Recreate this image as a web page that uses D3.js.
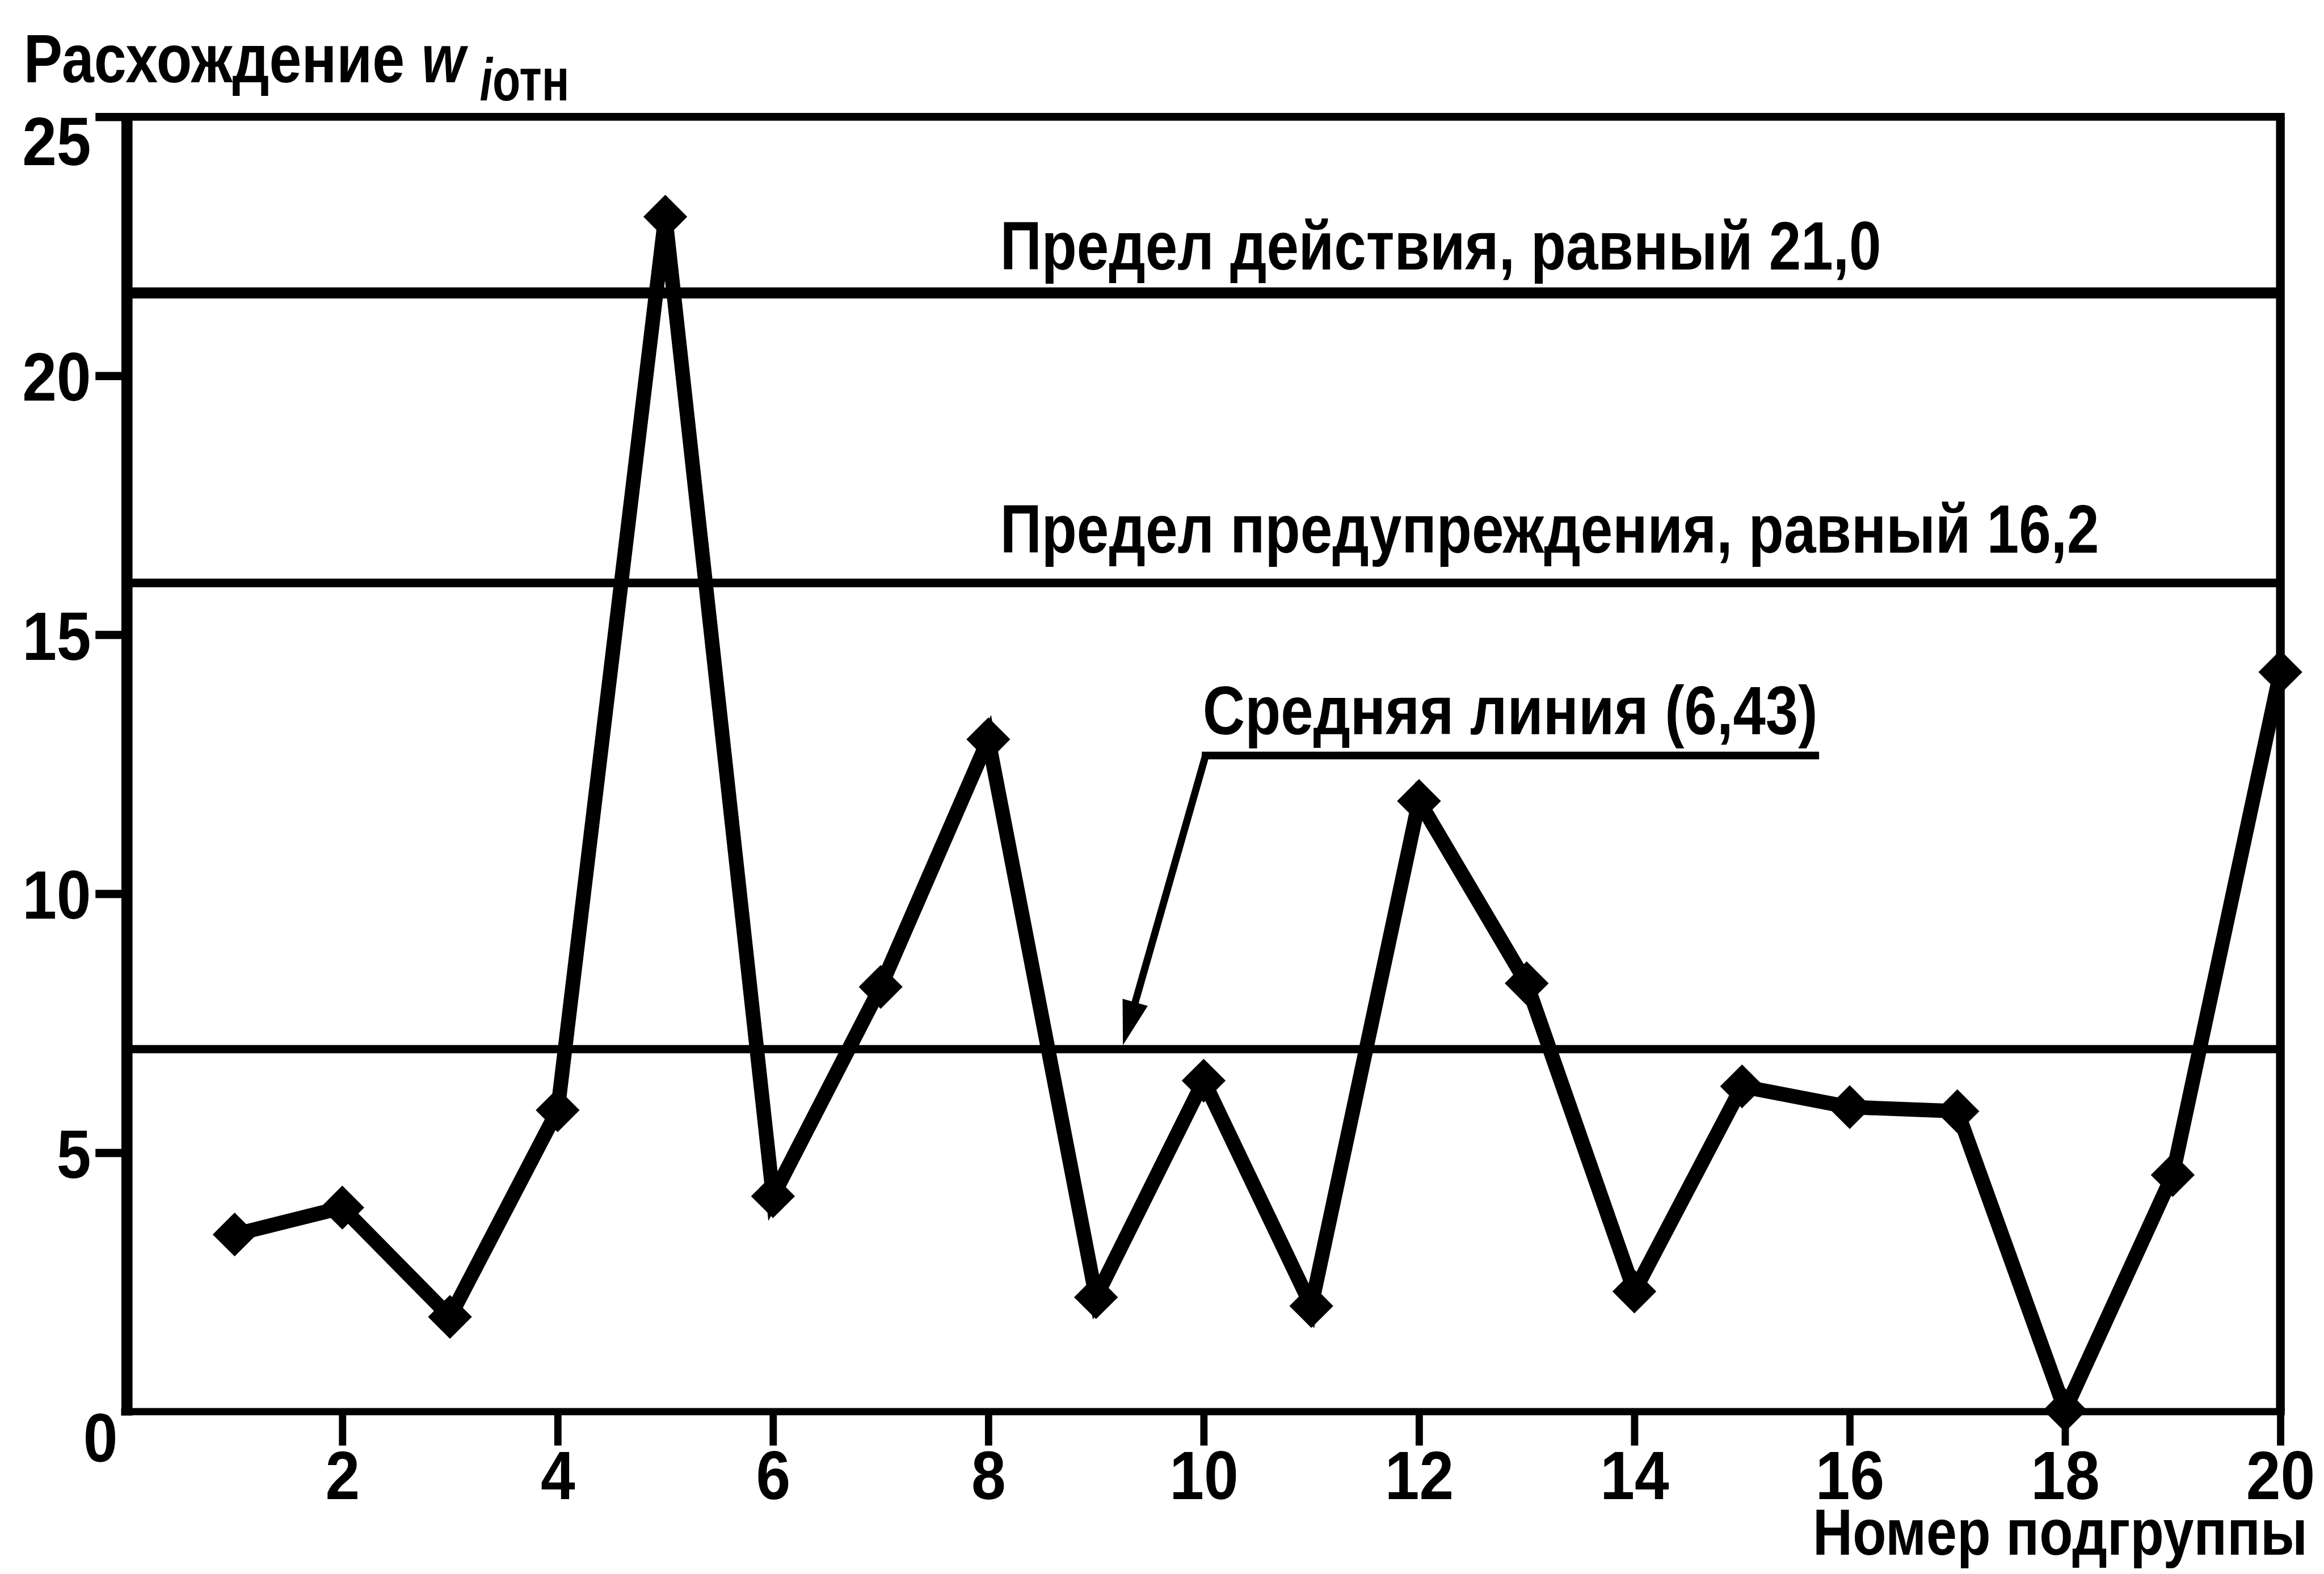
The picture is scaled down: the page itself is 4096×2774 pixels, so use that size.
<!DOCTYPE html>
<html>
<head>
<meta charset="utf-8">
<script src="https://cdn.jsdelivr.net/npm/d3@7"></script>
<style>
  html, body { margin: 0; padding: 0; background: #fff; }
  svg { display: block; }
  text { font-family: 'Liberation Sans', Arial, Helvetica, sans-serif; font-weight: bold; fill: #000; }
</style>
</head>
<body>
<div id="chart"></div>
<script>
// номер подгруппы и расхождение w_i отн
const subgroups = [1, 2, 3, 4, 5, 6, 7, 8, 9, 10, 11, 12, 13, 14, 15, 16, 17, 18, 19, 20]
const divergence = [3.42, 3.94, 1.83, 5.82, 23.07, 4.16, 8.20, 12.98, 2.21, 6.39, 2.04, 11.79, 8.27, 2.32, 6.28, 5.88, 5.80, 0.03, 4.57, 14.28]

// линии: предел действия, предел предупреждения, средняя (как нарисованы)
const limitValues = [21.6, 16.0, 7.0]
const limitLabels = ['Предел действия, равный 21,0', 'Предел предупреждения, равный 16,2', 'Средняя линия (6,43)']

const xTickValues = [2, 4, 6, 8, 10, 12, 14, 16, 18, 20]
const yTickValues = [0, 5, 10, 15, 20, 25]

// рисуем в координатах оригинала, viewBox ужимает до окна
const refW = 4796
const refH = 3248
const width = 4096
const height = 2774

const svg = d3.select('#chart')
  .append('svg')
  .attr('width', width)
  .attr('height', height)
  .attr('viewBox', `0 0 ${refW} ${refH}`)

svg.append('rect').attr('width', refW).attr('height', refH).attr('fill', '#fff')

const x = d3.scaleLinear().domain([0, 20]).range([262, 4706])
const y = d3.scaleLinear().domain([0, 25]).range([2913, 241])

const fs = 142
const tickK = 0.9

// рамка
const frame = svg.append('g').attr('stroke', '#000')
frame.append('line').attr('x1', x(0) - 12).attr('x2', x(20) + 9).attr('y1', y(25)).attr('y2', y(25)).attr('stroke-width', 16)
frame.append('line').attr('x1', x(20)).attr('x2', x(20)).attr('y1', y(25)).attr('y2', y(0)).attr('stroke-width', 18)
frame.append('line').attr('x1', x(0) - 12).attr('x2', x(20) + 9).attr('y1', y(0)).attr('y2', y(0)).attr('stroke-width', 15)
frame.append('line').attr('x1', x(0)).attr('x2', x(0)).attr('y1', y(25) - 8).attr('y2', y(0) + 8).attr('stroke-width', 23)

// ось Y
const yAxis = svg.append('g')
  .attr('transform', `translate(${x(0)},0)`)
  .call(d3.axisLeft(y).tickValues(yTickValues).tickSize(65).tickPadding(9).tickFormat(d3.format('d')))
yAxis.select('.domain').remove()
yAxis.selectAll('.tick line').attr('stroke', '#000').attr('stroke-width', 17)
  .filter(d => d === 0).remove()
yAxis.selectAll('.tick text')
  .attr('font-size', fs)
  .attr('font-family', null)
  .attr('fill', '#000')
  .attr('transform', `scale(${tickK},1)`)
  .attr('x', -74 / tickK)
  .attr('dy', '0.36em')
yAxis.selectAll('.tick text').filter(d => d === 0)
  .attr('x', -19 / tickK).attr('y', 103).attr('dy', 0)
yAxis.selectAll('.tick text').filter(d => d === 25)
  .attr('y', 99).attr('dy', 0)

// ось X
const xAxis = svg.append('g')
  .attr('transform', `translate(0,${y(0)})`)
  .call(d3.axisBottom(x).tickValues(xTickValues).tickSize(70).tickFormat(d3.format('d')))
xAxis.select('.domain').remove()
xAxis.selectAll('.tick line').attr('stroke', '#000').attr('stroke-width', 15)
xAxis.selectAll('.tick text')
  .attr('font-size', fs)
  .attr('font-family', null)
  .attr('fill', '#000')
  .attr('transform', `scale(${tickK},1)`)
  .attr('y', 180)
  .attr('dy', 0)

// горизонтальные линии пределов
const limitWidths = [23, 18, 17]
svg.append('g').selectAll('line')
  .data(limitValues)
  .join('line')
  .attr('x1', x(0))
  .attr('x2', x(20))
  .attr('y1', d => y(d))
  .attr('y2', d => y(d))
  .attr('stroke', '#000')
  .attr('stroke-width', (d, i) => limitWidths[i])

// шрифт в оригинале узкий: сжимаем текст по ширине до нужной длины
function squeeze (t, lx, ly, w) {
  const natural = t.node().getComputedTextLength()
  t.attr('transform', `translate(${lx},${ly}) scale(${w / natural},1)`)
  return t
}
function label (txt, lx, ly, w, size) {
  const t = svg.append('text')
    .attr('font-size', size || fs)
    .text(txt)
  return squeeze(t, lx, ly, w)
}
label(limitLabels[0], 2064, 556, 1818)
label(limitLabels[1], 2064, 1140, 2268)
label(limitLabels[2], 2482, 1515, 1269)

// подчёркивание и выноска к средней линии
const leadStart = [2488, 1559]
const tip = [x(9.25), y(limitValues[2]) - 8]
svg.append('line')
  .attr('x1', 2480).attr('x2', 3754)
  .attr('y1', leadStart[1]).attr('y2', leadStart[1])
  .attr('stroke', '#000').attr('stroke-width', 16)
const dx = tip[0] - leadStart[0]
const dy = tip[1] - leadStart[1]
const len = Math.hypot(dx, dy)
const ux = dx / len
const uy = dy / len
const headL = 92
const headW = 27
const base = [tip[0] - ux * headL, tip[1] - uy * headL]
svg.append('line')
  .attr('x1', leadStart[0]).attr('y1', leadStart[1])
  .attr('x2', base[0] + ux * 10).attr('y2', base[1] + uy * 10)
  .attr('stroke', '#000').attr('stroke-width', 15)
svg.append('path')
  .attr('d', `M${tip[0]},${tip[1]}L${base[0] - uy * headW},${base[1] + ux * headW}L${base[0] + uy * headW},${base[1] - ux * headW}Z`)
  .attr('fill', '#000')

// ломаная
const points = subgroups.map((s, i) => ({ s, v: divergence[i] }))
svg.append('path')
  .datum(points)
  .attr('fill', 'none')
  .attr('stroke', '#000')
  .attr('stroke-width', 30)
  .attr('d', d3.line().x(d => x(d.s)).y(d => y(d.v)))

svg.append('g').selectAll('path')
  .data(points)
  .join('path')
  .attr('d', d3.symbol(d3.symbolSquare, 4100))
  .attr('transform', d => `translate(${x(d.s)},${y(d.v)}) rotate(45)`)
  .attr('fill', '#000')

// заголовок оси Y
label('Расхождение', 49, 170, 786)
squeeze(svg.append('text').attr('font-size', fs).attr('font-style', 'italic').text('w'), 870, 170, 90)
const sub = svg.append('text').attr('font-size', 124)
sub.append('tspan').attr('font-style', 'italic').text('i')
sub.append('tspan').text('отн')
squeeze(sub, 990, 207, 185)

// подпись оси X
label('Номер подгруппы', 3741, 3208, 1021, 134)
</script>
</body>
</html>
